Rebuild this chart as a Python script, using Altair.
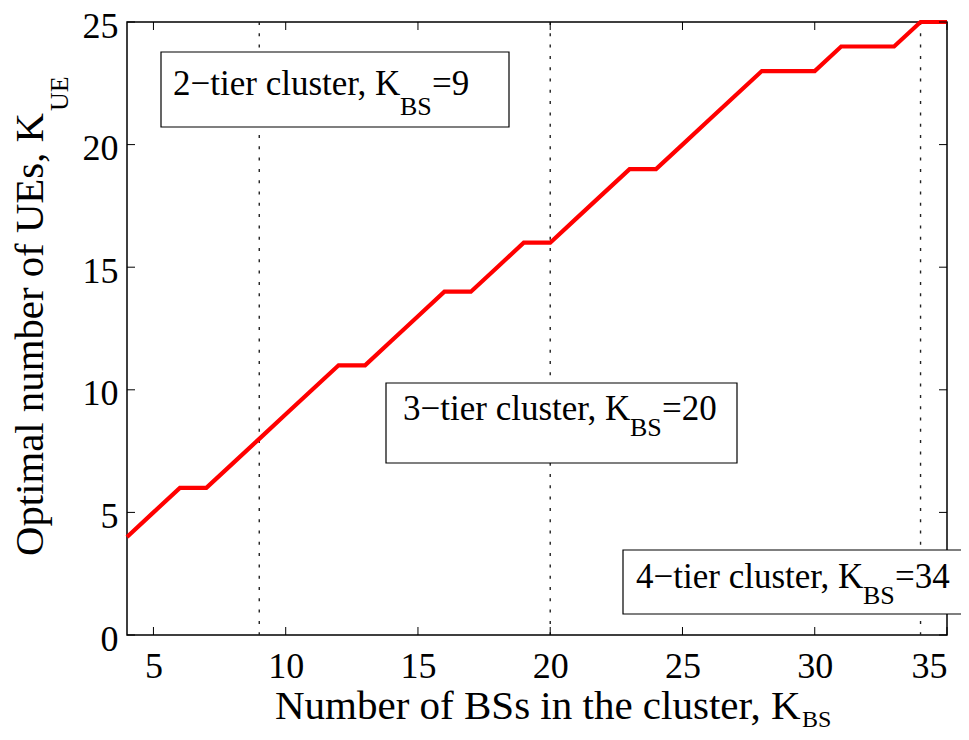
import altair as alt
import pandas as pd

# ---- data ----
k_bs = list(range(4, 36))
k_ue = [4, 5, 6, 6, 7, 8, 9, 10, 11, 11, 12, 13, 14, 14, 15, 16, 16, 17, 18, 19, 19,
        20, 21, 22, 23, 23, 23, 24, 24, 24, 25, 25]
cluster_bs = [9, 20, 34]
x_ticks = [5, 10, 15, 20, 25, 30, 35]
y_ticks = [0, 5, 10, 15, 20, 25]
box_labels = ["2\u2212tier cluster, K", "3\u2212tier cluster, K", "4\u2212tier cluster, K"]
box_values = ["=9", "=20", "=34"]
x_title = "Number of BSs in the cluster, K"
y_title = "Optimal number of UEs, K"

FONT = "Liberation Serif"
W, H = 820, 613

df = pd.DataFrame({"kbs": k_bs, "kue": k_ue})
xs = alt.Scale(domain=[4, 35], nice=False, zero=False)
ys = alt.Scale(domain=[0, 25], nice=False, zero=False)

line = alt.Chart(df).mark_line(color="#ff0000", strokeWidth=4.2).encode(
    x=alt.X("kbs:Q", scale=xs,
            axis=alt.Axis(values=x_ticks, title=None, grid=False, domain=False, ticks=False,
                          tickSize=0, labelFont=FONT, labelFontSize=36, labelColor="black",
                          labelPadding=14)),
    y=alt.Y("kue:Q", scale=ys,
            axis=alt.Axis(values=y_ticks, title=None, grid=False, domain=False, ticks=False,
                          tickSize=0, labelFont=FONT, labelFontSize=36, labelColor="black",
                          labelPadding=9, labelOffset=4)),
)

dotted = alt.Chart(pd.DataFrame({"c": cluster_bs})).mark_rule(
    color="#222222", strokeWidth=1.4, strokeDash=[3, 8.3]
).encode(x=alt.X("c:Q", scale=xs))

xt = pd.DataFrame({"t": x_ticks})
yt = pd.DataFrame({"t": y_ticks})
tick_bottom = alt.Chart(xt).mark_rule(color="black", strokeWidth=1).encode(
    x=alt.X("t:Q", scale=xs), y=alt.value(H), y2=alt.value(H - 8))
tick_top = alt.Chart(xt).mark_rule(color="black", strokeWidth=1).encode(
    x=alt.X("t:Q", scale=xs), y=alt.value(0), y2=alt.value(8))
tick_left = alt.Chart(yt).mark_rule(color="black", strokeWidth=1).encode(
    y=alt.Y("t:Q", scale=ys), x=alt.value(0), x2=alt.value(8))
tick_right = alt.Chart(yt).mark_rule(color="black", strokeWidth=1).encode(
    y=alt.Y("t:Q", scale=ys), x=alt.value(W), x2=alt.value(W - 8))


def box(x0, x1, y0, y1):
    return alt.Chart(pd.DataFrame({"b": [0]})).mark_rect(
        fill="white", stroke="black", strokeWidth=1.2
    ).encode(x=alt.value(x0), x2=alt.value(x1), y=alt.value(y0), y2=alt.value(y1))


def txt(s, x, y, size, align="left", angle=0):
    kw = dict(font=FONT, fontSize=size, color="black", align=align, baseline="alphabetic")
    if angle:
        kw["angle"] = angle
    return alt.Chart(pd.DataFrame({"s": [s]})).mark_text(**kw).encode(
        text="s:N", x=alt.value(x), y=alt.value(y))


boxes = [box(34, 382, 30, 105), box(259, 610, 361, 441), box(496, 860, 528, 592)]

ann = [
    txt(box_labels[0], 46, 73, 35), txt("BS", 273, 93, 26), txt(box_values[0], 305, 73, 35),
    txt(box_labels[1], 276, 398, 35), txt("BS", 503, 414, 26), txt(box_values[1], 535, 398, 35),
    txt(box_labels[2], 509, 566, 35), txt("BS", 736, 582, 26), txt(box_values[2], 768, 566, 35),
]

titles = [
    txt(x_title, 148, 697, 41), txt("BS", 675, 705, 24),
    txt(y_title, -84, 91, 40.8, align="right", angle=270),
    txt("UE", -59, 89, 26, align="left", angle=270),
]

chart = alt.layer(
    dotted, line, tick_bottom, tick_top, tick_left, tick_right, *boxes, *ann, *titles
).properties(
    width=W, height=H,
    autosize=alt.AutoSizeParams(type="none"),
    padding={"left": 119, "top": 14, "right": 14, "bottom": 97},
    background="white",
).configure_view(stroke="black", strokeWidth=1.5)

chart.save("out.html", embed_options={"renderer": "svg", "actions": False})
